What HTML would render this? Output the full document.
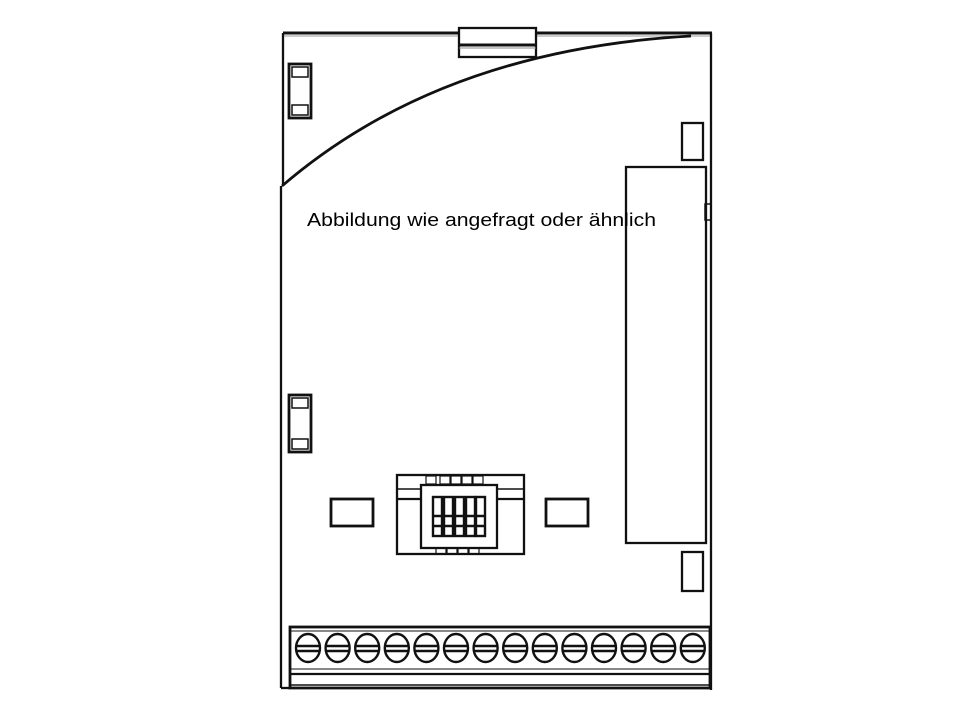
<!DOCTYPE html>
<html><head><meta charset="utf-8"><style>html,body{margin:0;padding:0;background:#fff;}svg{display:block}</style></head>
<body>
<svg width="960" height="720" viewBox="0 0 960 720" xmlns="http://www.w3.org/2000/svg">
<g fill="none" stroke="#111" stroke-width="2.3">
  <line x1="283" y1="33" x2="712" y2="33" stroke-width="3"/>
  <line x1="283" y1="36" x2="712" y2="36" stroke="#999" stroke-width="1"/>
  <line x1="283" y1="33" x2="283" y2="186"/>
  <line x1="281" y1="186" x2="281" y2="688"/>
  <line x1="711" y1="33" x2="711" y2="690"/>
  <line x1="281" y1="688" x2="290" y2="688"/>
  <rect x="459" y="28" width="77" height="29" fill="#fff"/>
  <line x1="459" y1="45" x2="536" y2="45" stroke-width="3"/>
  <line x1="459" y1="48" x2="536" y2="48" stroke="#888" stroke-width="1"/>
  <path d="M282 186 Q440 50 691 36" stroke-width="2.8"/>
  <rect x="289" y="64" width="22" height="54" stroke-width="2.8"/>
  <rect x="292" y="67" width="16" height="10" stroke-width="1.5"/>
  <rect x="292" y="105" width="16" height="10" stroke-width="1.5"/>
  <rect x="289" y="395" width="22" height="57" stroke-width="2.8"/>
  <rect x="292" y="398" width="16" height="10" stroke-width="1.5"/>
  <rect x="292" y="439" width="16" height="10" stroke-width="1.5"/>
  <rect x="682" y="123" width="21" height="37"/>
  <rect x="626" y="167" width="80" height="376"/>
  <rect x="705" y="204" width="6" height="16" stroke-width="1.5"/>
  <rect x="682" y="552" width="21" height="39"/>
  <rect x="331" y="499" width="42" height="27" stroke-width="2.8"/>
  <rect x="546" y="499" width="42" height="27" stroke-width="2.8"/>
  <rect x="397" y="475" width="127" height="79"/>
  <line x1="397" y1="489" x2="524" y2="489" stroke-width="1.5"/>
  <line x1="397" y1="499" x2="524" y2="499"/>
  <rect x="421" y="485" width="76" height="63" fill="#fff"/>
  <rect x="426" y="476" width="10" height="8" stroke-width="1.2"/>
  <rect x="440" y="476" width="10" height="8" stroke-width="1.2"/>
  <rect x="451" y="476" width="10" height="8" stroke-width="1.2"/>
  <rect x="462" y="476" width="10" height="8" stroke-width="1.2"/>
  <rect x="473" y="476" width="10" height="8" stroke-width="1.2"/>
  <rect x="436" y="548" width="10" height="6" stroke-width="1.2"/>
  <rect x="447" y="548" width="10" height="6" stroke-width="1.2"/>
  <rect x="458" y="548" width="10" height="6" stroke-width="1.2"/>
  <rect x="469" y="548" width="10" height="6" stroke-width="1.2"/>
  <g stroke-width="2.4">
    <rect x="433" y="497" width="9" height="39"/>
    <rect x="444" y="497" width="9" height="39"/>
    <rect x="455" y="497" width="9" height="39"/>
    <rect x="466" y="497" width="9" height="39"/>
    <rect x="476" y="497" width="9" height="39"/>
    <line x1="433" y1="516" x2="485" y2="516"/>
    <line x1="433" y1="526" x2="485" y2="526"/>
  </g>
  <rect x="290" y="627" width="420" height="61" stroke-width="2.8"/>
  <line x1="290" y1="631" x2="710" y2="631" stroke-width="1"/>
  <line x1="290" y1="669" x2="710" y2="669" stroke-width="1"/>
  <line x1="290" y1="674" x2="710" y2="674"/>
  <line x1="290" y1="685" x2="710" y2="685" stroke-width="1.5"/>
  <g stroke-width="2.4">
    <g id="s"><ellipse cx="308" cy="648" rx="12" ry="14"/><line x1="296" y1="646" x2="320" y2="646"/><line x1="296" y1="651" x2="320" y2="651"/></g>
    <use href="#s" x="29.6"/><use href="#s" x="59.2"/><use href="#s" x="88.8"/><use href="#s" x="118.4"/>
    <use href="#s" x="148"/><use href="#s" x="177.6"/><use href="#s" x="207.2"/><use href="#s" x="236.8"/>
    <use href="#s" x="266.4"/><use href="#s" x="296"/><use href="#s" x="325.6"/><use href="#s" x="355.2"/>
    <use href="#s" x="384.8"/>
  </g>
</g>
<text x="307" y="226" font-family="Liberation Sans, sans-serif" font-size="18.5" fill="#000" textLength="349" lengthAdjust="spacingAndGlyphs">Abbildung wie angefragt oder ähnlich</text>
</svg>
</body></html>
